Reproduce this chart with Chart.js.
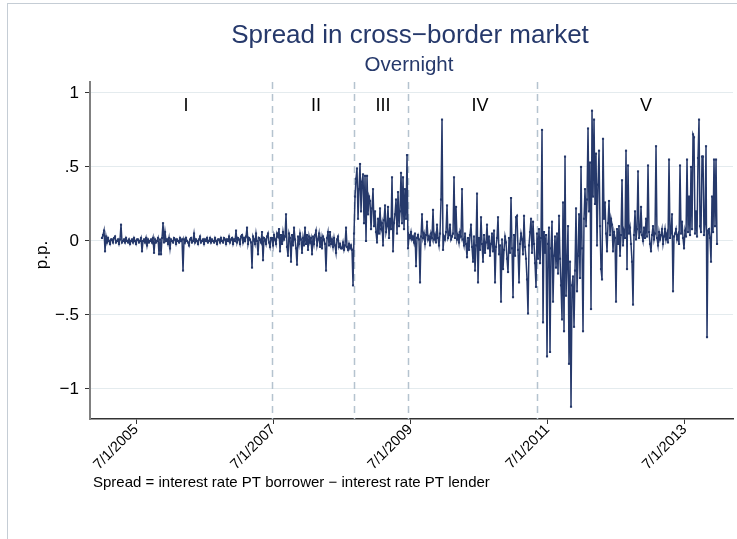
<!DOCTYPE html>
<html>
<head>
<meta charset="utf-8">
<script src="https://cdn.jsdelivr.net/npm/chart.js@4.4.1/dist/chart.umd.min.js"></script>
<style>
html, body { margin: 0; padding: 0; background: #fff; }
canvas { display: block; }
</style>
</head>
<body>
<canvas id="spreadChart" width="737" height="539"></canvas>
<script>
// Spread in cross-border market, overnight (p.p.), one value roughly every 5 days
const seriesStart = '2005-01-01';
const stepDays = 5.325;

const periodI = [
    .02, .04, .07, -.07, .03, -.01, .02, 0, -.02, .01,
    .01, -.01, .02, .03, -.01, 0, .01, -.02, .01, .11,
    -.01, 0, .01, -.01, .02, 0, -.01, .01, -.02, 0,
    .01, -.01, .02, 0, -.02, .01, .01, -.01, 0, .02,
    -.07, 0, .01, -.01, .02, -.03, .01, -.01, 0, .01,
    -.01, .02, -.08, .01, -.01, 0, .02, -.09, .01, -.09,
    .02, .12, -.01, .06, 0, .01, -.02, .02, -.05, .01,
    0, -.01, .02, .01, -.02, .01, 0, -.01, .02, 0,
    .01, -.2, .01, -.01, .02, 0, -.01, -.03, .01, .02,
    -.01, 0, .05, -.01, .01, 0, -.02, .01, .03, -.01,
    0, .01, -.02, .01, 0, .02, -.01, 0, .02, -.01,
    .01, 0, -.01, .02, 0, -.02, .01, .01, -.01, .02,
    0, -.01, .02, .01, -.02, .01, 0, .03, -.01, .01,
    .02, -.02, .01, 0, .07, -.01, .02, .01, -.02, .03,
    .04, -.01, .02, 0, .03, .09, -.02, .02, .01, -.01,
    -.18, .03, .01, -.02, .05, 0, -.09, .02, .01, -.01,
    .06, -.13, .02, .01, -.02, .03, .05, -.01, -.04, .02
];

const periodII = [
    .02, -.03, .04, .01, -.02, .05, .03, .08, -.07, .04,
    -.02, .06, .01, .03, .18, -.04, -.1, .05, .02, -.14,
    .04, -.03, .09, .01, -.05, -.16, .03, -.02, .05, .01,
    -.08, .02, -.03, .09, -.02, .04, -.06, .03, -.01, .02,
    -.09, .03, -.02, .04, .07, -.03, .01, .05, -.04, .02,
    -.05, .03, .01, -.02, -.2, .02, .06, -.03, .06, -.02,
    .01, -.04, .02, -.03, -.08, .01, .03, -.04, -.02, -.05,
    -.05, -.01, -.06, -.03, .09, -.04, -.06, -.02, -.05, -.03,
    -.06, -.3
];

const periodIII = [
    .05, .3, .42, .49, .15, .35, .52, .2, .4, .45,
    .12, .44, 0, .44, .18, .3, .27, .08, .22, .35,
    .1, .2, .06, -.01, .15, .05, .22, .08, .12, -.03,
    .14, .24, .06, .1, .23, .02, .15, .08, .43, -.07,
    .12, .18, .28, .05, .33, .1, .2, .46, .12, .43,
    .08, .35, .15, .58
];

const periodIV = [
    -.05, .04, .02, .06, .01, .03, -.01, .05, -.17, .02,
    .04, .01, -.28, .03, .18, .02, .05, -.02, .04, .13,
    .01, .03, -.03, .05, .02, .21, .01, .04, -.01, .11,
    .02, -.03, .05, .28, .82, -.06, .03, .01, .06, .24,
    .02, .04, .11, .01, .03, .05, .43, .02, .23, .01,
    .04, -.01, .06, .03, .35, .01, -.03, .05, -.02, -.11,
    .02, -.06, .04, .11, -.04, -.14, .03, -.2, -.03, .32,
    -.28, .02, -.06, .16, -.02, -.14, .04, -.08, -.01, .11,
    -.05, .03, -.1, -.02, .05, -.07, .07, -.28, -.04, .02,
    .16, -.09, -.03, -.41, .01, -.19, -.06, .03, -.01, -.12,
    -.21, .02, -.08, .29, -.05, -.38, .04, -.1, .16, .17,
    -.06, -.28, -.02, .05, .01, -.09, .17, -.04, -.12, -.26,
    -.49, -.03, .06, .15, -.08, .13, -.02, -.15, -.31
];

const periodV = [
    .05, -.12, .08, -.15, .02, .75, -.55, .06, -.08, .04,
    -.78, -.02, .09, -.75, -.05, .13, -.41, -.1, .03, -.18,
    .05, -.22, .17, -.12, -.3, -.53, .26, -.61, .57, -.37,
    -.15, .1, -.83, -.14, -1.12, -.3, -.24, -.58, -.2, .22,
    -.34, -.1, .18, -.25, .5, -.05, -.61, .15, .35, .1,
    .28, .76, .2, .53, -.46, .88, .3, .82, .25, .59,
    -.03, .38, .61, .1, -.19, -.26, .69, .15, .26, .05,
    -.07, .12, .27, .04, .15, .11, -.07, .06, .02, -.41,
    .08, -.02, .1, -.1, .04, .41, -.03, .06, .02, .61,
    -.19, .51, .05, .09, -.02, -.14, -.43, .04, .2, .01,
    .08, .47, .02, .06, .23, .04, 0, .09, .02, .15,
    .03, .51, .06, -.02, -.07, .04, .1, .01, .05, .64,
    .02, -.03, .06, .01, .04, .08, -.02, .03, .08, .01,
    .05, -.01, .55, .02, .06, .18, -.34, .03, .05, .08,
    .01, .04, -.02, .51, .05, .13, .02, -.05, .07, .03,
    .55, .06, .3, .04, .5, .08, .72, .7, .05, .2,
    .03, .56, .82, .1, .06, .57, .57, .04, .12, .64,
    -.65, .07, .08, .02, -.14, .3, .06, .55, .1, .55,
    -.02
];

// axes
const xMin = '2004-10-29';
const xMax = '2014-03-15';
const xTickDates = ['2005-07-01', '2007-07-01', '2009-07-01', '2011-07-01', '2013-07-01'];
const yTicks = [-1, -.5, 0, .5, 1];
const yMin = -1.203;
const yMax = 1.074;

// regime breaks and their labels
const breakDates = ['2007-06-25', '2008-09-04', '2009-06-18', '2011-05-06'];
const periodLabels = ['I', 'II', 'III', 'IV', 'V'];
const periodLabelDates = ['2006-03-24', '2008-02-14', '2009-02-05', '2010-07-07', '2012-12-07'];

const FONT = '"Liberation Sans", Arial, Helvetica, sans-serif';
const NAVY = '#26396b';

function dayNum(s) {
    const p = s.split('-').map(Number);
    return Date.UTC(p[0], p[1] - 1, p[2]) / 864e5;
}

function fmtDate(v) {
    const d = new Date(Math.round(v) * 864e5);
    return (d.getUTCMonth() + 1) + '/' + d.getUTCDate() + '/' + d.getUTCFullYear();
}

const values = [...periodI, ...periodII, ...periodIII, ...periodIV, ...periodV];
const start = dayNum(seriesStart);
const points = values.map((v, i) => ({ x: start + i * stepDays, y: v }));

const decor = {
    id: 'decor',
    beforeDraw(chart) {
        const ctx = chart.ctx;
        ctx.save();
        ctx.fillStyle = '#fff';
        ctx.fillRect(0, 0, chart.width, chart.height);
        ctx.strokeStyle = '#c5cdd5';
        ctx.lineWidth = 1;
        ctx.strokeRect(7.5, 3.5, chart.width + 10, chart.height + 10);
        ctx.restore();
    },
    beforeDatasetsDraw(chart) {
        const { ctx, chartArea, scales } = chart;
        ctx.save();
        ctx.strokeStyle = '#b5c3cf';
        ctx.lineWidth = 1.5;
        ctx.setLineDash([7, 5]);
        breakDates.forEach(d => {
            const x = Math.round(scales.x.getPixelForValue(dayNum(d))) + 0.5;
            ctx.beginPath();
            ctx.moveTo(x, chartArea.top);
            ctx.lineTo(x, chartArea.bottom);
            ctx.stroke();
        });
        ctx.restore();
    },
    afterDraw(chart) {
        const { ctx, scales } = chart;
        ctx.save();
        ctx.textAlign = 'center';
        ctx.textBaseline = 'middle';
        ctx.fillStyle = NAVY;
        ctx.font = '26px ' + FONT;
        ctx.fillText('Spread in cross\u2212border market', 410, 36);
        ctx.font = '20.5px ' + FONT;
        ctx.fillText('Overnight', 409, 65);

        ctx.fillStyle = '#000';
        ctx.font = '18px ' + FONT;
        periodLabels.forEach((t, i) => {
            ctx.fillText(t, scales.x.getPixelForValue(dayNum(periodLabelDates[i])), 106);
        });

        ctx.save();
        ctx.translate(42, 255);
        ctx.rotate(-Math.PI / 2);
        ctx.font = '17px ' + FONT;
        ctx.fillText('p.p.', 0, 0);
        ctx.restore();

        ctx.textAlign = 'left';
        ctx.font = '15px ' + FONT;
        ctx.fillText('Spread = interest rate PT borrower \u2212 interest rate PT lender', 93, 483);
        ctx.restore();
    }
};

new Chart(document.getElementById('spreadChart'), {
    type: 'line',
    data: {
        datasets: [{
            label: 'Spread',
            data: points,
            borderColor: NAVY,
            borderWidth: 1.5,
            pointRadius: 1.5,
            pointStyle: 'rect',
            pointBorderWidth: 0,
            pointBackgroundColor: NAVY,
            tension: 0
        }]
    },
    options: {
        responsive: false,
        animation: false,
        events: [],
        layout: { padding: { left: 0, top: 82, right: 4, bottom: 0 } },
        plugins: {
            legend: { display: false },
            title: { display: false },
            tooltip: { enabled: false }
        },
        scales: {
            x: {
                type: 'linear',
                min: dayNum(xMin),
                max: dayNum(xMax),
                afterBuildTicks: s => { s.ticks = xTickDates.map(d => ({ value: dayNum(d) })); },
                afterFit: s => { s.height = 120; },
                ticks: {
                    autoSkip: false,
                    minRotation: 45,
                    maxRotation: 45,
                    padding: -3,
                    color: '#000',
                    font: { family: FONT, size: 14.5 },
                    callback: v => fmtDate(v)
                },
                grid: {
                    drawOnChartArea: false,
                    drawTicks: true,
                    tickLength: 5,
                    tickColor: '#333',
                    lineWidth: 1
                },
                border: { color: '#333', width: 1.5 }
            },
            y: {
                min: yMin,
                max: yMax,
                afterBuildTicks: s => { s.ticks = yTicks.map(v => ({ value: v })); },
                afterFit: s => { s.width = 90; },
                ticks: {
                    padding: 6,
                    color: '#000',
                    font: { family: FONT, size: 17 },
                    callback: v => v === 0 ? '0' : (v < 0 ? '\u2212' : '') + String(Math.abs(v)).replace(/^0/, '')
                },
                grid: {
                    color: '#e4ebee',
                    lineWidth: 1,
                    tickLength: 5,
                    tickColor: '#333'
                },
                border: { color: '#808080', width: 2 }
            }
        }
    },
    plugins: [decor]
});
</script>
</body>
</html>
